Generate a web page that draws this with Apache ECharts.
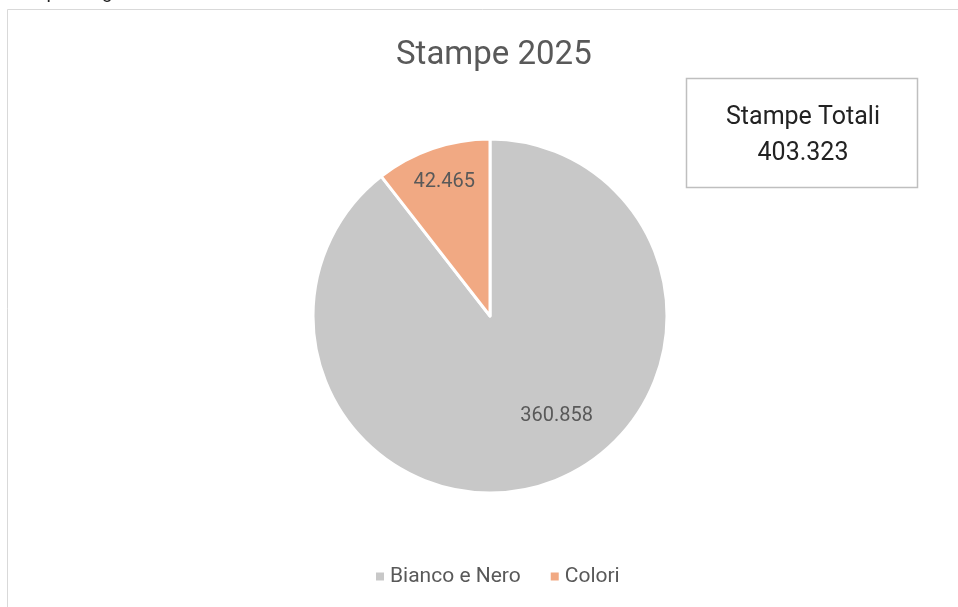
<!DOCTYPE html>
<html>
<head>
<meta charset="utf-8">
<script src="https://cdn.jsdelivr.net/npm/echarts@6/dist/echarts.min.js"></script>
<style>
  html, body { margin: 0; padding: 0; background: #fff; }
  #chart { width: 958px; height: 607px; }
</style>
</head>
<body>
<div id="chart"></div>
<script>
// dati del grafico
var categorie = ['Bianco e Nero', 'Colori'];
var valori = [360858, 42465];
var etichette = ['360.858', '42.465'];
var colori = ['#c8c8c8', '#f1a983'];
var totaleTesto = '403.323';

var chart = echarts.init(document.getElementById('chart'), null, { renderer: 'canvas' });

var dati = [];
for (var i = 0; i < categorie.length; i++) {
  dati.push({ name: categorie[i], value: valori[i], itemStyle: { color: colori[i] } });
}

// spostamento delle etichette come in Excel (best fit)
var spostamenti = [[37, 13], [-16, -47]];

var option = {
  backgroundColor: '#fff',
  animation: false,
  title: {
    text: 'Stampe 2025',
    left: 391,
    top: 34,
    textStyle: { fontFamily: 'Roboto', fontSize: 33, fontWeight: 'normal', color: '#595959' }
  },
  legend: {
    bottom: 15,
    left: 369,
    itemWidth: 10,
    itemHeight: 10,
    itemGap: 28,
    icon: 'rect',
    data: categorie,
    textStyle: { fontFamily: 'Roboto', fontSize: 21, color: '#595959' }
  },
  graphic: [
    // bordo dell'area del grafico
    { type: 'polyline', shape: { points: [[7.5, 607], [7.5, 9.5], [958, 9.5]] },
      style: { stroke: '#d9d9d9', lineWidth: 1, fill: null }, silent: true },
    // testo tagliato in alto
    { type: 'text', left: 2, top: -16,
      style: { text: 'Stampe eseguite', fontFamily: 'Roboto', fontSize: 19, fill: '#222' } },
    // riquadro totale
    { type: 'rect', shape: { x: 686.5, y: 78.5, width: 231, height: 109 },
      style: { fill: '#fff', stroke: '#bfbfbf', lineWidth: 1.5 } },
    { type: 'text', x: 803, y: 118,
      style: { text: 'Stampe Totali', fontFamily: 'Roboto', fontSize: 25, fill: '#222',
        align: 'center', verticalAlign: 'middle' } },
    { type: 'text', x: 803, y: 154,
      style: { text: totaleTesto, fontFamily: 'Roboto', fontSize: 25, fill: '#222',
        align: 'center', verticalAlign: 'middle' } }
  ],
  series: [
    {
      type: 'pie',
      center: [490, 316],
      radius: [0, 177],
      startAngle: 90,
      clockwise: true,
      data: dati,
      itemStyle: { borderColor: '#fff', borderWidth: 3 },
      label: {
        position: 'inside',
        fontFamily: 'Roboto',
        fontSize: 20,
        color: '#595959',
        formatter: function (p) { return etichette[p.dataIndex]; }
      },
      labelLayout: function (p) {
        return { dx: spostamenti[p.dataIndex][0], dy: spostamenti[p.dataIndex][1] };
      },
      emphasis: { disabled: true }
    }
  ]
};

chart.setOption(option);
</script>
</body>
</html>
